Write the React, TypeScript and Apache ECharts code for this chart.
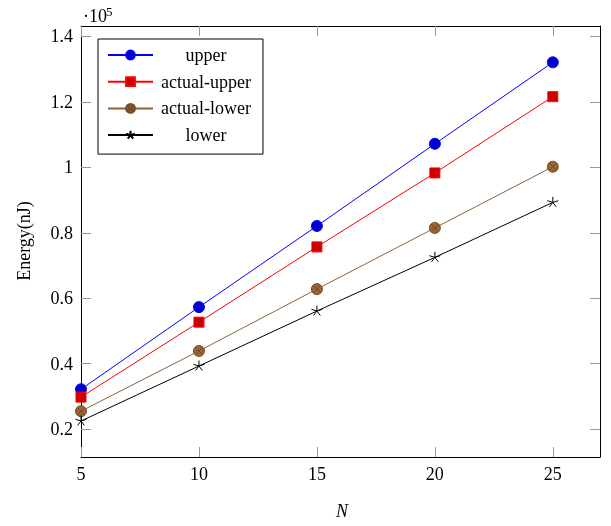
import React, { useEffect, useRef } from "react";
import * as echarts from "echarts";

const N = [5, 10, 15, 20, 25];
const upper = [32200, 57300, 82100, 107200, 132100];
const actualUpper = [29800, 52700, 75700, 98300, 121600];
const actualLower = [25500, 43900, 62800, 81500, 100200];
const lower = [22500, 39300, 56100, 72500, 89300];
const xTicks = [5, 10, 15, 20, 25];
const yTicks = [0.2, 0.4, 0.6, 0.8, 1, 1.2, 1.4];
const yScale = 1e5;

const FONT = "Liberation Serif";
const STAR =
  "path://M0 0 L0 -10 M0 0 L9.51 -3.09 M0 0 L5.88 8.09 M0 0 L-5.88 8.09 M0 0 L-9.51 -3.09 M0 10";
const OTIMES =
  "path://M0 -10 A10 10 0 1 1 0 10 A10 10 0 1 1 0 -10 Z M-7.07 -7.07 L7.07 7.07 M7.07 -7.07 L-7.07 7.07";

export default function App() {
  const ref = useRef<HTMLDivElement>(null);
  useEffect(() => {
    if (!ref.current) return;
    const chart = echarts.init(ref.current, null, { renderer: "svg" });
    const yCustom = yTicks.map((v) => Math.round(v * yScale));
    const tickStyle = { show: true, inside: true, length: 10, lineStyle: { color: "#999999", width: 1 } };
    const lineStyle = { show: true, lineStyle: { color: "#000", width: 1 } };
    const xMin = 5, xMax = 27, yMin = 11500, yMax = 143200;
    const mk = (name: string, data: number[], color: string, symbol: string, size: number, fill: string, border: string) => ({
      name,
      type: "line",
      data: N.map((x, i) => [x, data[i]]),
      symbol,
      symbolSize: size,
      showAllSymbol: true,
      lineStyle: { color, width: 1 },
      itemStyle: { color: fill, borderColor: border, borderWidth: 1 },
      emphasis: { disabled: true },
      z: 3,
    });
    chart.setOption({
      animation: false,
      textStyle: { fontFamily: FONT },
      grid: { left: 81, right: 11, top: 26, bottom: 69, containLabel: false },
      xAxis: [
        {
          type: "value", min: xMin, max: xMax, interval: 5,
          axisLine: lineStyle,
          axisTick: { ...tickStyle, customValues: xTicks },
          axisLabel: { customValues: xTicks, color: "#000", fontSize: 18, fontFamily: FONT, margin: 8 },
          splitLine: { show: false },
        },
        {
          type: "value", position: "top", min: xMin, max: xMax, interval: 5,
          axisLine: lineStyle,
          axisTick: { ...tickStyle, customValues: xTicks },
          axisLabel: { show: false },
          splitLine: { show: false },
        },
      ],
      yAxis: [
        {
          type: "value", min: yMin, max: yMax,
          axisLine: lineStyle,
          axisTick: { ...tickStyle, customValues: yCustom },
          axisLabel: {
            customValues: yCustom, color: "#000", fontSize: 18, fontFamily: FONT, margin: 8,
            formatter: (v: number) => String(v / yScale),
          },
          splitLine: { show: false },
        },
        {
          type: "value", position: "right", min: yMin, max: yMax,
          axisLine: lineStyle,
          axisTick: { ...tickStyle, customValues: yCustom },
          axisLabel: { show: false },
          splitLine: { show: false },
        },
      ],
      legend: {
        left: 98, top: 39, orient: "vertical",
        padding: [7, 12, 10, 9],
        itemGap: 8.7,
        itemWidth: 45,
        itemHeight: 11,
        borderColor: "#000", borderWidth: 1, backgroundColor: "#fff",
        selectedMode: false,
        formatter: (name: string) => `{c|${name}}`,
        textStyle: {
          fontFamily: FONT, fontSize: 18, color: "#000",
          rich: { c: { width: 96, align: "center", fontSize: 18, fontFamily: FONT, color: "#000" } },
        },
        data: ["upper", "actual-upper", "actual-lower", "lower"],
      },
      series: [
        mk("upper", upper, "#0000ff", "circle", 11, "#0000cc", "#0000ff"),
        mk("actual-upper", actualUpper, "#ff0000", "rect", 10, "#cc0000", "#ff0000"),
        mk("actual-lower", actualLower, "#8c6239", OTIMES, 11, "#996633", "#734c26"),
        mk("lower", lower, "#000000", STAR, 11, "#000000", "#000000"),
      ],
      graphic: [
        {
          type: "text", x: 24, y: 241, rotation: Math.PI / 2,
          style: { text: "Energy(nJ)", font: `18px '${FONT}'`, fill: "#000", align: "center", verticalAlign: "middle" },
        },
        {
          type: "text", x: 342, y: 511,
          style: { text: "N", font: `italic 18px '${FONT}'`, fill: "#000", align: "center", verticalAlign: "middle" },
        },
        {
          type: "text", x: 83, y: 16,
          style: { text: "·10", font: `18px '${FONT}'`, fill: "#000", align: "left", verticalAlign: "middle" },
        },
        {
          type: "text", x: 106, y: 11,
          style: { text: "5", font: `13px '${FONT}'`, fill: "#000", align: "left", verticalAlign: "middle" },
        },
      ],
    });
    return () => chart.dispose();
  }, []);
  return <div ref={ref} style={{ position: "fixed", left: 0, top: 0, width: 611, height: 526 }} />;
}
